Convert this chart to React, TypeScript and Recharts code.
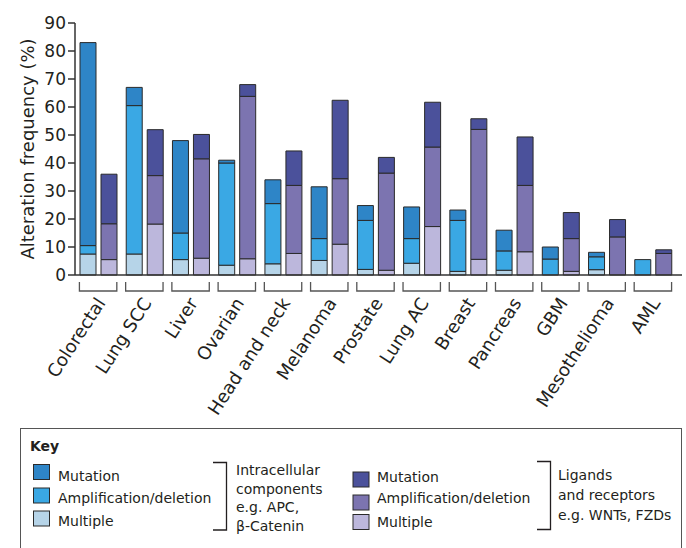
import React from "react";
import { BarChart, Bar, XAxis, YAxis, Label } from "recharts";

// cancer types along the x axis
const CATEGORIES = [
  "Colorectal",
  "Lung SCC",
  "Liver",
  "Ovarian",
  "Head and neck",
  "Melanoma",
  "Prostate",
  "Lung AC",
  "Breast",
  "Pancreas",
  "GBM",
  "Mesothelioma",
  "AML",
];

// intracellular components (APC, beta-catenin), % of samples
const INTRA_MULTIPLE = [7.5, 7.5, 5.5, 3.5, 4, 5.2, 2, 4.2, 1.3, 1.7, 0, 1.9, 0];
const INTRA_AMP = [3, 53, 9.5, 36.5, 21.5, 7.8, 17.5, 8.8, 18.2, 6.9, 5.7, 4.6, 5.5];
const INTRA_MUT = [72.5, 6.5, 33, 1, 8.5, 18.5, 5.3, 11.3, 3.7, 7.4, 4.3, 1.6, 0];

// ligands and receptors (WNTs, FZDs), % of samples
const LIG_MULTIPLE = [5.5, 18.2, 6, 5.8, 7.7, 11, 1.7, 17.3, 5.6, 8.3, 1.3, 0, 0];
const LIG_AMP = [12.8, 17.3, 35.5, 58, 24.3, 23.4, 34.7, 28.4, 46.4, 23.7, 11.7, 13.6, 7.7];
const LIG_MUT = [17.7, 16.4, 8.7, 4.2, 12.3, 28, 5.6, 16, 3.8, 17.3, 9.3, 6.2, 1.3];

const Y_TICKS = [0, 10, 20, 30, 40, 50, 60, 70, 80, 90];

const FONT = "'DejaVu Sans', sans-serif";
const INK = "#231f20";
const EDGE = "#2a2a2a";

const COLORS = {
  intraMut: "#2e85c7",
  intraAmp: "#3aa8e4",
  intraMulti: "#b6d4e8",
  ligMut: "#4b519b",
  ligAmp: "#7c74b0",
  ligMulti: "#bcb7dc",
};

const data = CATEGORIES.map((name, i) => ({
  name,
  intraMulti: INTRA_MULTIPLE[i],
  intraAmp: INTRA_AMP[i],
  intraMut: INTRA_MUT[i],
  ligMulti: LIG_MULTIPLE[i],
  ligAmp: LIG_AMP[i],
  ligMut: LIG_MUT[i],
}));

// bracket under each pair of bars plus the slanted name
function CategoryTick(props: any) {
  const { x, y, payload } = props;
  const half = 18.7;
  const tx = x + 8;
  const ty = y + 28;
  return (
    <g>
      <path
        d={`M${x - half},${y + 7}V${y + 16}H${x + half}V${y + 7}`}
        fill="none"
        stroke="#555"
        strokeWidth={1.3}
      />
      <text
        x={tx}
        y={ty}
        transform={`rotate(-57, ${tx}, ${ty})`}
        textAnchor="end"
        fontSize={18}
        fontFamily={FONT}
        fill={INK}
      >
        {payload.value}
      </text>
    </g>
  );
}

function Swatch({ x, y, color }: { x: number; y: number; color: string }) {
  return <rect x={x} y={y} width={16} height={15} fill={color} stroke={EDGE} strokeWidth={1} />;
}

function Key() {
  const t = { fontFamily: FONT, fontSize: 14, fill: INK } as const;
  return (
    <svg
      width={686}
      height={548}
      style={{ position: "absolute", left: 0, top: 0, pointerEvents: "none" }}
    >
      <rect x={20.5} y={428.5} width={661} height={140} fill="none" stroke="#555" strokeWidth={1} />
      <text x={30} y={451} {...t} fontWeight="bold">Key</text>

      <Swatch x={33.5} y={464.5} color={COLORS.intraMut} />
      <Swatch x={33.5} y={488} color={COLORS.intraAmp} />
      <Swatch x={33.5} y={511} color={COLORS.intraMulti} />
      <text x={58} y={481} {...t}>Mutation</text>
      <text x={58} y={502.5} {...t}>Amplification/deletion</text>
      <text x={58} y={525.5} {...t}>Multiple</text>
      <path d="M213,462.5H226.5V530H213" fill="none" stroke={INK} strokeWidth={1.3} />
      <text x={236} y={475} {...t}>Intracellular</text>
      <text x={236} y={493.5} {...t}>components</text>
      <text x={236} y={512} {...t}>e.g. APC,</text>
      <text x={236} y={530.5} {...t}>β-Catenin</text>

      <Swatch x={353} y={472} color={COLORS.ligMut} />
      <Swatch x={353} y={495} color={COLORS.ligAmp} />
      <Swatch x={353} y={514.5} color={COLORS.ligMulti} />
      <text x={377} y={482} {...t}>Mutation</text>
      <text x={377} y={503} {...t}>Amplification/deletion</text>
      <text x={377} y={527} {...t}>Multiple</text>
      <path d="M537,461.5H550.5V529.5H537" fill="none" stroke={INK} strokeWidth={1.3} />
      <text x={558} y={480} {...t}>Ligands</text>
      <text x={558} y={500} {...t}>and receptors</text>
      <text x={558} y={520} {...t}>e.g. WNTs, FZDs</text>
    </svg>
  );
}

export default function App() {
  return (
    <div
      style={{
        position: "absolute",
        left: 0,
        top: 0,
        width: 686,
        height: 548,
        overflow: "hidden",
        background: "#fff",
      }}
    >
      <BarChart
        width={686}
        height={420}
        data={data}
        margin={{ top: 23, right: 4, left: 0, bottom: 0 }}
        barSize={16}
        barGap={5}
      >
        <XAxis
          dataKey="name"
          interval={0}
          tickLine={false}
          tickSize={0}
          tickMargin={0}
          height={145}
          padding={{ left: 0, right: 6 }}
          axisLine={{ stroke: "#333", strokeWidth: 1.5 }}
          tick={<CategoryTick />}
        />
        <YAxis
          domain={[0, 90]}
          ticks={Y_TICKS}
          interval={0}
          width={75}
          tickSize={7}
          tickMargin={2}
          axisLine={{ stroke: "#333", strokeWidth: 1.5 }}
          tickLine={{ stroke: "#333", strokeWidth: 1.5 }}
          tick={{ fontSize: 17, fill: INK, fontFamily: FONT }}
        >
          <Label
            content={() => (
              <text
                x={27}
                y={149}
                transform="rotate(-90, 27, 149)"
                textAnchor="middle"
                dominantBaseline="central"
                fontSize={18}
                fontFamily={FONT}
                fill={INK}
              >
                Alteration frequency (%)
              </text>
            )}
          />
        </YAxis>
        <Bar dataKey="intraMulti" stackId="intra" fill={COLORS.intraMulti} stroke={EDGE} strokeWidth={1} isAnimationActive={false} />
        <Bar dataKey="intraAmp" stackId="intra" fill={COLORS.intraAmp} stroke={EDGE} strokeWidth={1} isAnimationActive={false} />
        <Bar dataKey="intraMut" stackId="intra" fill={COLORS.intraMut} stroke={EDGE} strokeWidth={1} isAnimationActive={false} />
        <Bar dataKey="ligMulti" stackId="lig" fill={COLORS.ligMulti} stroke={EDGE} strokeWidth={1} isAnimationActive={false} />
        <Bar dataKey="ligAmp" stackId="lig" fill={COLORS.ligAmp} stroke={EDGE} strokeWidth={1} isAnimationActive={false} />
        <Bar dataKey="ligMut" stackId="lig" fill={COLORS.ligMut} stroke={EDGE} strokeWidth={1} isAnimationActive={false} />
      </BarChart>
      <Key />
    </div>
  );
}
